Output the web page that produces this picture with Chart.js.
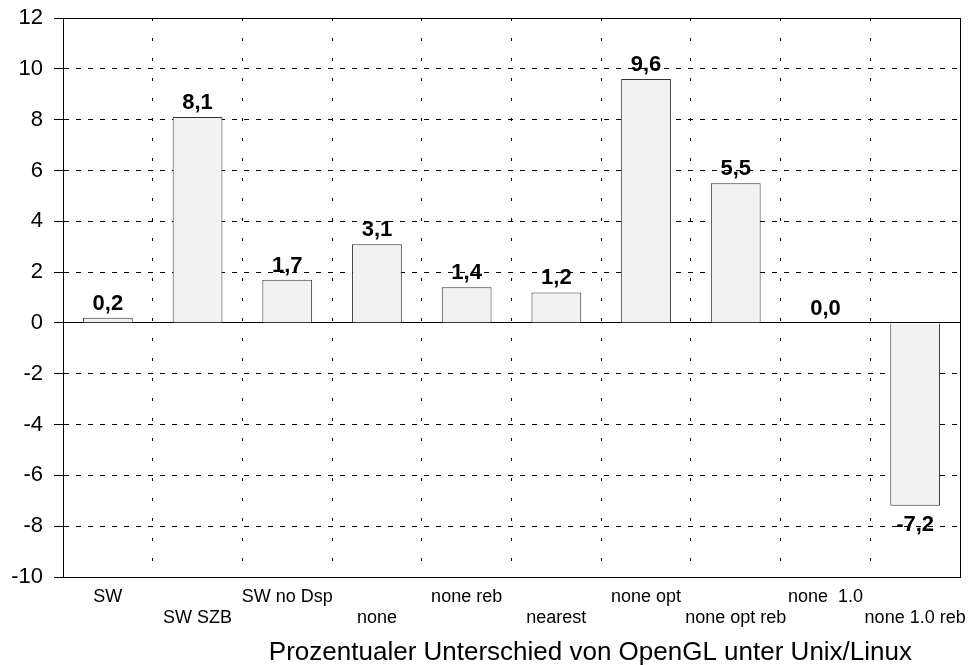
<!DOCTYPE html>
<html>
<head>
<meta charset="utf-8">
<script src="https://cdn.jsdelivr.net/npm/chart.js@4/dist/chart.umd.min.js"></script>
<style>
  html, body { margin: 0; padding: 0; background: #fff; }
  #wrap { width: 973px; height: 665px; }
</style>
</head>
<body>
<div id="wrap"><canvas id="diffChart"></canvas></div>
<script>
const categories = [
  'SW', 'SW SZB', 'SW no Dsp', 'none', 'none reb',
  'nearest', 'none opt', 'none opt reb', 'none  1.0', 'none 1.0 reb'
];
const diffValues = [0.2, 8.1, 1.7, 3.1, 1.4, 1.2, 9.6, 5.5, 0.0, -7.2];
const yTicks = [-10, -8, -6, -4, -2, 0, 2, 4, 6, 8, 10, 12];
const axisTitle = 'Prozentualer Unterschied von OpenGL unter Unix/Linux';

const FONT = "'Liberation Sans', Arial, sans-serif";

// solid frame round the plot area + the axis title under the labels
const framePlugin = {
  id: 'frame',
  afterDraw(chart) {
    const { ctx, chartArea: a } = chart;
    ctx.save();
    ctx.strokeStyle = '#000';
    ctx.lineWidth = 1;
    ctx.setLineDash([]);
    ctx.strokeRect(Math.round(a.left) + 0.5, Math.round(a.top) + 0.5,
      Math.round(a.right - a.left), Math.round(a.bottom - a.top));

    ctx.font = '26px ' + FONT;
    ctx.fillStyle = '#000';
    ctx.textAlign = 'right';
    ctx.textBaseline = 'alphabetic';
    ctx.fillText(axisTitle, a.right - 48, a.bottom + 83);
    ctx.restore();
  }
};

// bold value labels above / below the bars
const valuePlugin = {
  id: 'values',
  afterDatasetsDraw(chart) {
    const { ctx } = chart;
    const meta = chart.getDatasetMeta(0);
    ctx.save();
    ctx.font = 'bold 22px ' + FONT;
    ctx.fillStyle = '#000';
    ctx.textAlign = 'center';
    ctx.textBaseline = 'alphabetic';
    meta.data.forEach((bar, i) => {
      const v = diffValues[i];
      const txt = v.toFixed(1).replace('.', ',');
      if (v >= 0) {
        ctx.fillText(txt, bar.x, bar.y - 8);
      } else {
        ctx.fillText(txt, bar.x, bar.y + 25);
      }
    });
    ctx.restore();
  }
};

const ctx = document.getElementById('diffChart').getContext('2d');

new Chart(ctx, {
  type: 'bar',
  data: {
    labels: categories,
    datasets: [{
      data: diffValues,
      backgroundColor: '#f2f2f2',
      borderColor: '#333',
      borderWidth: 1,
      categoryPercentage: 1,
      barPercentage: 0.555
    }]
  },
  options: {
    responsive: true,
    maintainAspectRatio: false,
    animation: false,
    layout: {
      padding: { top: 18, right: 13, left: 0, bottom: 0 }
    },
    plugins: {
      legend: { display: false },
      tooltip: { enabled: false }
    },
    scales: {
      x: {
        afterFit: s => {
          s.height = 88;
          s.paddingLeft = 0;
          s.paddingRight = 0;
        },
        grid: {
          offset: true,
          color: '#000',
          lineWidth: 1,
          drawTicks: false
        },
        border: {
          display: true,
          color: '#000',
          width: 1,
          dash: ctx => ctx.type === 'tick' ? [3, 17] : []
        },
        ticks: {
          color: '#000',
          font: { family: FONT, size: 18 },
          padding: 9,
          maxRotation: 0,
          autoSkip: false,
          callback: (v, i) => i % 2 ? ['', categories[i]] : [categories[i], '']
        }
      },
      y: {
        min: -10,
        max: 12,
        afterFit: s => {
          s.width = 63;
          s.paddingTop = 0;
          s.paddingBottom = 0;
        },
        afterBuildTicks: s => { s.ticks = yTicks.map(v => ({ value: v })); },
        grid: {
          color: '#000',
          lineWidth: 1,
          drawTicks: true,
          tickLength: 9,
          tickColor: '#000',
          tickBorderDash: []
        },
        border: {
          display: true,
          color: '#000',
          width: 1,
          dash: ctx => {
            if (ctx.type !== 'tick') return [];
            const v = ctx.tick.value;
            return (v === 0 || v === 12 || v === -10) ? [] : [5, 7];
          }
        },
        ticks: {
          color: '#000',
          font: { family: FONT, size: 22 },
          padding: 11
        }
      }
    }
  },
  plugins: [framePlugin, valuePlugin]
});
</script>
</body>
</html>
